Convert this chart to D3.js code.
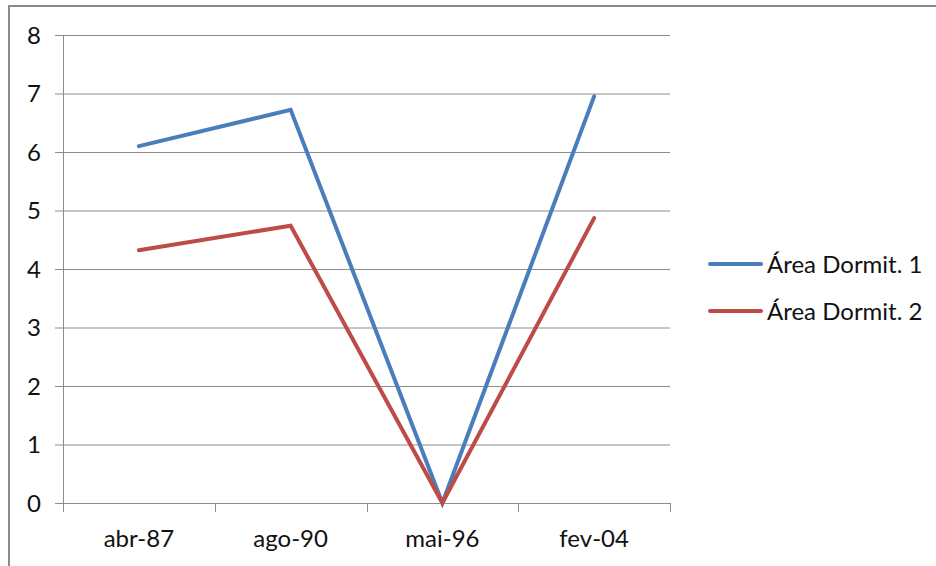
<!DOCTYPE html>
<html>
<head>
<meta charset="utf-8">
<script src="https://cdn.jsdelivr.net/npm/d3@7"></script>
<style>
  body { margin: 0; background: #fff; }
  svg text { font-family: Lato, "Open Sans", sans-serif; fill: #111; }
</style>
</head>
<body>
<div id="chart-area"></div>
<script>
// data
const categories = ["abr-87", "ago-90", "mai-96", "fev-04"];
const seriesNames = ["Área Dormit. 1", "Área Dormit. 2"];
const dormit1 = [6.10, 6.72, 0, 6.95];
const dormit2 = [4.32, 4.74, 0, 4.87];
const yTicks = [0, 1, 2, 3, 4, 5, 6, 7, 8];
const colors = ["#4a7ebb", "#be4b48"];

const W = 936, H = 566;
let margin = {left: 63, top: 35, right: 266, bottom: 63};
let width = W - margin.left - margin.right,
    height = H - margin.top - margin.bottom;

let svg = d3.select("#chart-area").append("svg")
  .attr("width", W).attr("height", H);

// outer frame of the chart object
svg.append("rect")
  .attr("x", 9).attr("y", 6)
  .attr("width", W + 20).attr("height", H + 20)
  .attr("fill", "none").attr("stroke", "#8c8c8c").attr("stroke-width", 2);

let g = svg.append("g")
  .attr("transform", "translate(" + margin.left + "," + margin.top + ")");

let x = d3.scaleBand().domain(categories).range([0, width]);
let y = d3.scaleLinear().domain([0, 8]).range([height, 0]);

// gridlines
g.selectAll(".grid").data(yTicks).enter().append("line")
  .attr("x1", -8).attr("x2", width)
  .attr("y1", d => y(d) + 0.5).attr("y2", d => y(d) + 0.5)
  .attr("stroke", "#8c8c8c").attr("stroke-width", 1);

// y axis line
g.append("line")
  .attr("x1", 0.5).attr("x2", 0.5).attr("y1", 0).attr("y2", height)
  .attr("stroke", "#8c8c8c");

// x axis tick marks at band edges
let edges = categories.map(c => x(c)).concat([width]);
g.selectAll(".xtick").data(edges).enter().append("line")
  .attr("x1", d => Math.round(d) + 0.5).attr("x2", d => Math.round(d) + 0.5)
  .attr("y1", height).attr("y2", height + 9)
  .attr("stroke", "#8c8c8c");

// y labels
g.selectAll(".ylab").data(yTicks).enter().append("text")
  .attr("x", -22).attr("y", d => y(d))
  .attr("dy", "0.36em").attr("text-anchor", "end")
  .attr("font-size", "24px").text(d => d);

// x labels
g.selectAll(".xlab").data(categories).enter().append("text")
  .attr("x", d => x(d) + x.bandwidth() / 2).attr("y", height + 44)
  .attr("text-anchor", "middle").attr("font-size", "24px").text(d => d);

// lines
let line = d3.line()
  .x((d, i) => x(categories[i]) + x.bandwidth() / 2)
  .y(d => y(d));

[dormit1, dormit2].forEach(function(s, k) {
  g.append("path").datum(s)
    .attr("d", line)
    .attr("fill", "none").attr("stroke", colors[k])
    .attr("stroke-width", 4).attr("stroke-linejoin", "miter")
    .attr("stroke-linecap", "round");
});

// legend
let legend = svg.append("g");
seriesNames.forEach(function(name, k) {
  let ly = 264 + k * 47;
  legend.append("line")
    .attr("x1", 710).attr("x2", 761).attr("y1", ly).attr("y2", ly)
    .attr("stroke", colors[k]).attr("stroke-width", 4).attr("stroke-linecap", "round");
  legend.append("text")
    .attr("x", 767).attr("y", ly).attr("dy", "0.36em")
    .attr("font-size", "24px").text(name);
});
</script>
</body>
</html>
